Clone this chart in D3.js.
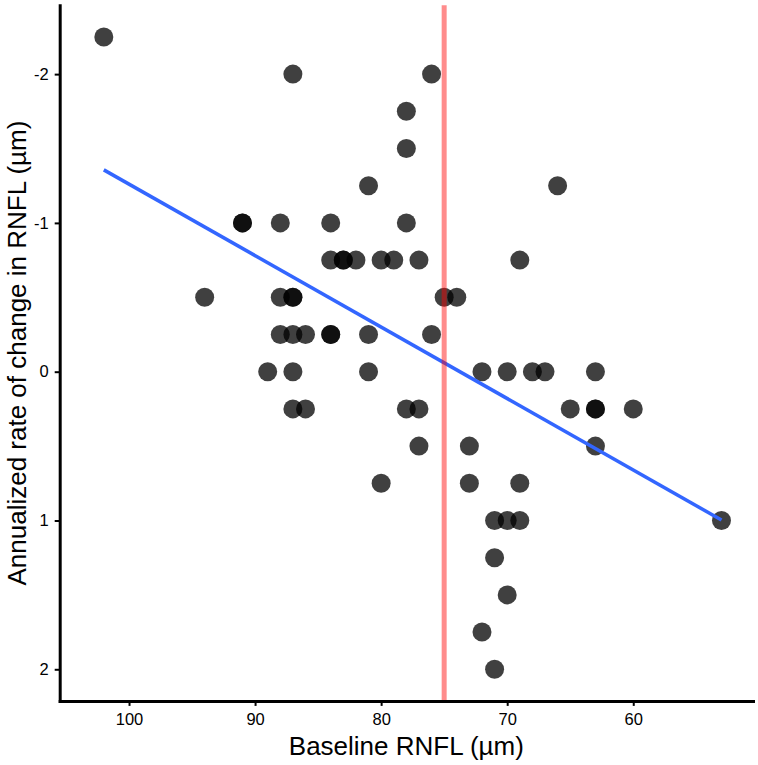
<!DOCTYPE html>
<html>
<head>
<meta charset="utf-8">
<script src="https://cdn.jsdelivr.net/npm/d3@7"></script>
<style>
  html, body { margin: 0; padding: 0; background: #fff; }
  svg { display: block; }
  text { font-family: "Liberation Sans", Arial, sans-serif; }
</style>
</head>
<body>
<svg id="chart" width="758" height="765"></svg>
<script>
// ---- data ----
const baselineRNFL = [
  102,
  87, 76,
  78,
  78,
  81, 66,
  91, 91, 88, 84, 78,
  84, 83, 83, 82, 80, 79, 77, 69,
  94, 88, 87, 87, 75, 74,
  88, 87, 86, 84, 84, 81, 76,
  89, 87, 81, 72, 70, 68, 67, 63,
  87, 86, 78, 77, 65, 63, 63, 60,
  77, 73, 63,
  80, 73, 69,
  71, 70, 69, 53,
  71,
  70,
  72,
  71
];
const rateChange = [
  -2.25,
  -2, -2,
  -1.75,
  -1.5,
  -1.25, -1.25,
  -1, -1, -1, -1, -1,
  -0.75, -0.75, -0.75, -0.75, -0.75, -0.75, -0.75, -0.75,
  -0.5, -0.5, -0.5, -0.5, -0.5, -0.5,
  -0.25, -0.25, -0.25, -0.25, -0.25, -0.25, -0.25,
  0, 0, 0, 0, 0, 0, 0, 0,
  0.25, 0.25, 0.25, 0.25, 0.25, 0.25, 0.25, 0.25,
  0.5, 0.5, 0.5,
  0.75, 0.75, 0.75,
  1, 1, 1, 1,
  1.25,
  1.5,
  1.75,
  2
];
const xTicks = [100, 90, 80, 70, 60];
const yTicks = [-2, -1, 0, 1, 2];
const cutoffRNFL = [75];
const xDomain = [105.5, 50.5];
const yDomain = [-2.4625, 2.2125];
const xTitle = "Baseline RNFL (µm)";
const yTitle = "Annualized rate of change in RNFL (µm)";

// ---- layout ----
const W = 758, H = 765;
const margin = { top: 5.3, right: 5, bottom: 64.1, left: 59.7 };
const svg = d3.select("#chart");

const x = d3.scaleLinear().domain(xDomain).range([margin.left, W - margin.right]);
const y = d3.scaleLinear().domain(yDomain).range([margin.top, H - margin.bottom]);

const pts = baselineRNFL.map((v, i) => ({ x: v, y: rateChange[i] }));

// points
svg.append("g")
  .selectAll("circle")
  .data(pts)
  .join("circle")
  .attr("cx", d => x(d.x))
  .attr("cy", d => y(d.y))
  .attr("r", 9.5)
  .attr("fill", "#000")
  .attr("fill-opacity", 0.75);

// linear regression (lm)
const mx = d3.mean(pts, d => d.x), my = d3.mean(pts, d => d.y);
const sxy = d3.sum(pts, d => (d.x - mx) * (d.y - my));
const sxx = d3.sum(pts, d => (d.x - mx) * (d.x - mx));
const slope = sxy / sxx, intercept = my - slope * mx;
const [xmin, xmax] = d3.extent(baselineRNFL);
const fit = [xmax, xmin].map(v => ({ x: v, y: intercept + slope * v }));

svg.append("path")
  .datum(fit)
  .attr("d", d3.line().x(d => x(d.x)).y(d => y(d.y)))
  .attr("fill", "none")
  .attr("stroke", "#3366FF")
  .attr("stroke-width", 3.5);

// cutoff vertical line
svg.append("g")
  .selectAll("line")
  .data(cutoffRNFL)
  .join("line")
  .attr("x1", d => x(d)).attr("x2", d => x(d))
  .attr("y1", margin.top).attr("y2", H - margin.bottom)
  .attr("stroke", "#ff0000")
  .attr("stroke-opacity", 0.45)
  .attr("stroke-width", 5);

// axes
const xAxis = d3.axisBottom(x).tickValues(xTicks).tickSize(5).tickSizeOuter(0).tickPadding(7)
  .tickFormat(d => String(d));
const yAxis = d3.axisLeft(y).tickValues(yTicks).tickSize(5).tickSizeOuter(0).tickPadding(6)
  .tickFormat(d => String(d));

const gx = svg.append("g")
  .attr("transform", `translate(0,${H - margin.bottom})`)
  .call(xAxis);
const gy = svg.append("g")
  .attr("transform", `translate(${margin.left},0)`)
  .call(yAxis);

[gx, gy].forEach(g => {
  g.select(".domain").attr("stroke", "#000").attr("stroke-width", 3).attr("stroke-linecap", "square");
  g.selectAll(".tick line").attr("stroke", "#000").attr("stroke-width", 2);
  g.selectAll(".tick text").attr("fill", "#000").style("font-size", "16.5px")
    .style("font-family", '"Liberation Sans", Arial, sans-serif');
});

// titles
svg.append("text")
  .attr("x", (margin.left + W - margin.right) / 2)
  .attr("y", 755)
  .attr("text-anchor", "middle")
  .style("font-size", "26px")
  .attr("fill", "#000")
  .text(xTitle);

svg.append("text")
  .attr("transform", `translate(26,${(margin.top + H - margin.bottom) / 2}) rotate(-90)`)
  .attr("text-anchor", "middle")
  .style("font-size", "26px")
  .attr("fill", "#000")
  .text(yTitle);
</script>
</body>
</html>
